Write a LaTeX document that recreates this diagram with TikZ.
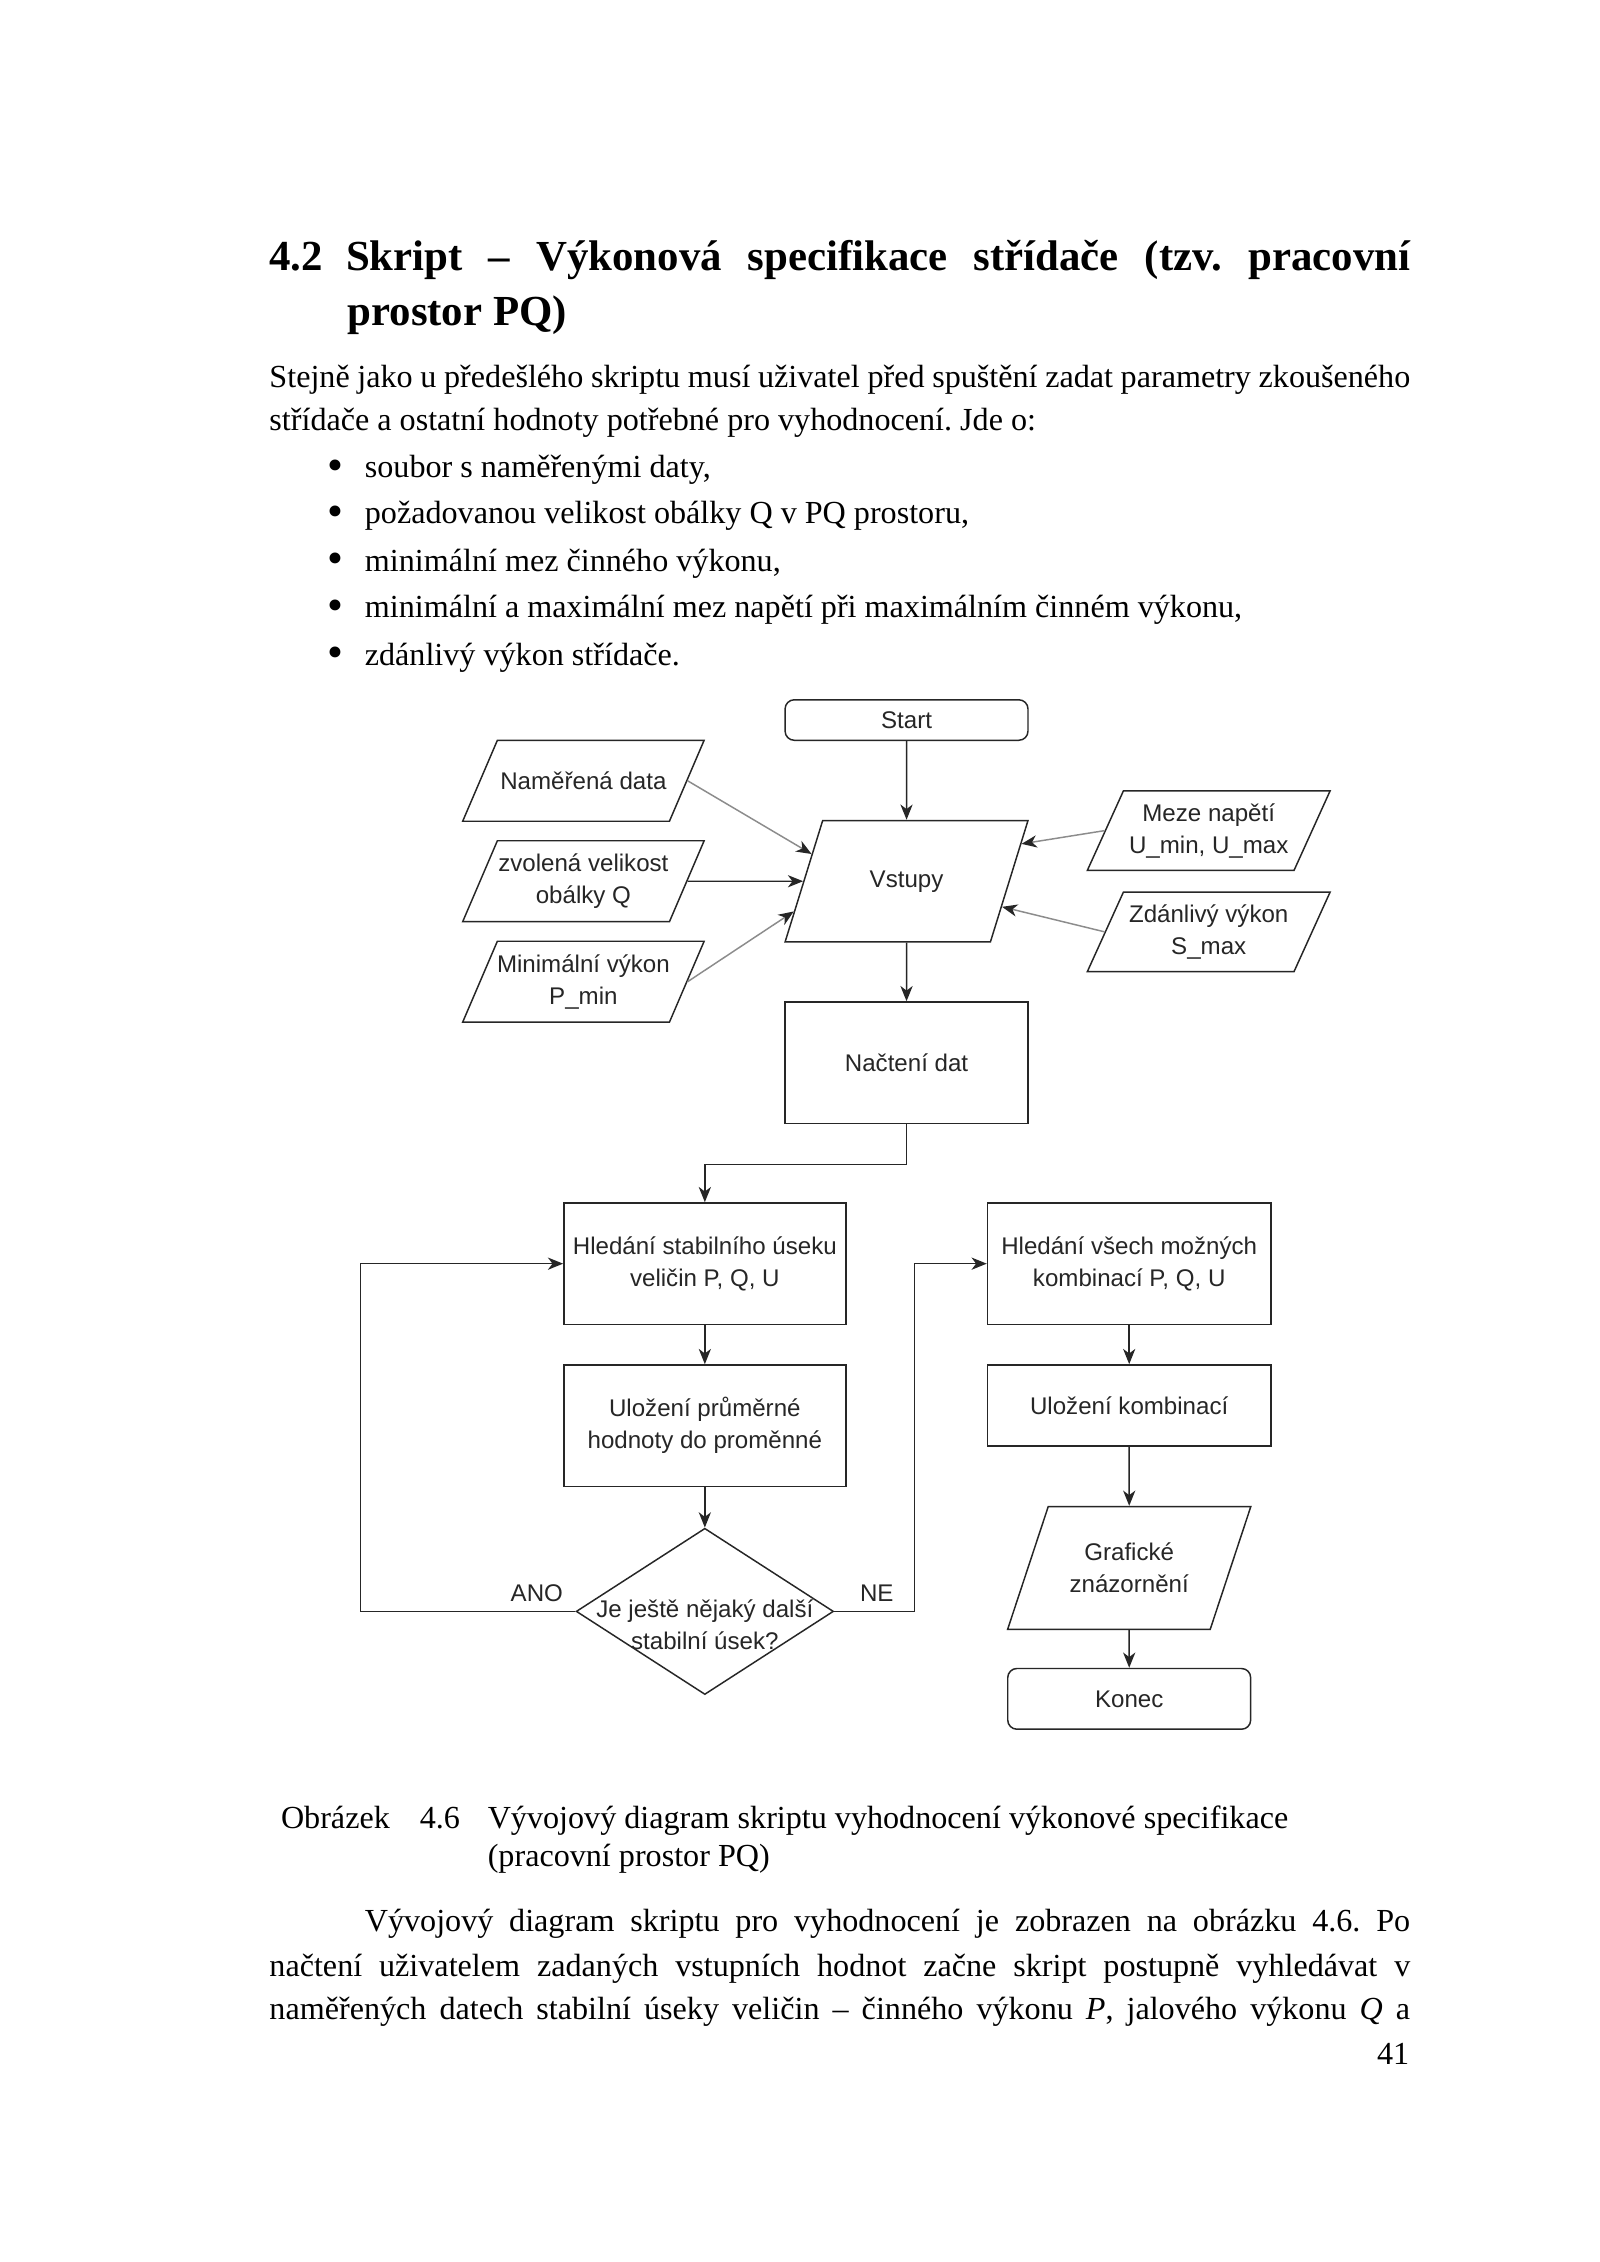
\documentclass[tikz,border=0pt]{standalone}
\usepackage{fontspec}
\setmainfont{Liberation Serif}
\setsansfont{Liberation Sans}
\usetikzlibrary{shapes.geometric,arrows.meta}
\frenchspacing

% drawing unit, page is 1106.6 units wide
\newlength\ux
\setlength\ux{0.18977mm}

% one line of page text, stretched to the given width
\newcommand\jline[5]{\node[txt] (#1) at (#2,#3) {\makebox[#4\ux][s]{#5}}; }
\newcommand\pline[4]{\node[txt] (#1) at (#2,#3) {#4}; }

\tikzset{
  txt/.style={anchor=base west, inner sep=0pt, font=\fontsize{12}{14}\selectfont},
  head/.style={txt, font=\bfseries\fontsize{16}{19}\selectfont},
  box/.style={draw=black!85, line width=0.55pt, minimum width=168\ux, minimum height=84\ux,
    align=center, inner sep=1pt, font=\sffamily\fontsize{9}{12}\selectfont, text=black!85},
  term/.style={box, rounded corners=1.2mm},
  % parallelogram: angle, body width, height
  io/.style n args={3}{draw=black!85, line width=0.55pt, trapezium,
    trapezium left angle=#1, trapezium right angle={180-#1},
    text width=#2\ux, text height=#3\ux, text depth=0pt, inner sep=0pt},
  lbl/.style={font=\sffamily\fontsize{9}{12}\selectfont, text=black!85, align=center},
  line/.style={draw=black!85, line width=0.55pt,
    -{Stealth[length=2mm, width=1.6mm, inset=0.6mm]}},
  gline/.style={draw=black!45, -{Stealth[length=2mm, width=1.6mm, inset=0.6mm, color=black!85]}}
}

\begin{document}
\begin{tikzpicture}[x=1\ux, y=-1\ux]
    \fill[white] (0,0) rectangle (1106.6,1564.5);
    \useasboundingbox (0,0) rectangle (1106.6,1564.5);

    % heading
    \node[head] (hnum) at (186,187) {4.2};
    \node[head] (h1) at (239,187) {\makebox[736\ux][s]{Skript – Výkonová specifikace střídače (tzv. pracovní}};
    \node[head] (h2) at (240,225) {prostor PQ)};

    % text above the figure
    \jline{p1}{186}{268}{789}{Stejně jako u předešlého skriptu musí uživatel před spuštění zadat parametry zkoušeného}
    \pline{p2}{186}{298}{střídače a ostatní hodnoty potřebné pro vyhodnocení. Jde o:}

    % bullets
    \foreach \i/\y/\t in {1/330/{soubor s naměřenými daty,},
                          2/362/{požadovanou velikost obálky Q v PQ prostoru,},
                          3/395/{minimální mez činného výkonu,},
                          4/427/{minimální a maximální mez napětí při maximálním činném výkonu,},
                          5/460/{zdánlivý výkon střídače.}} {
      \node[txt, font=\fontsize{17}{17}\selectfont] (dot\i) at (226,\y+2) {•};
      \pline{item\i}{252}{\y}{\t}
    }

    % start and inputs
    \node[term, minimum height=28\ux] (start) at (627,498) {Start};
    \node[io={72.8}{116}{84}, label={[lbl, name=vstupyt]center:Vstupy}] (vstupy) at (627,609.5) {};
    \node[io={66.8}{119}{56}, label={[lbl, name=namert]center:Naměřená data}] (namer) at (403.5,540) {};
    \node[io={66.8}{119}{56}, label={[lbl, name=obalkat]center:{zvolená velikost\\obálky Q}}] (obalka) at (403.5,609.5) {};
    \node[io={66.8}{119}{56}, label={[lbl, name=pmint]center:{Minimální výkon\\P\_min}}] (pmin) at (403.5,679) {};
    \node[io={65.6}{118}{55}, label={[lbl, name=umezt]center:{Meze napětí\\U\_min, U\_max}}] (umez) at (836,574.5) {};
    \node[io={65.6}{118}{55}, label={[lbl, name=smaxt]center:{Zdánlivý výkon\\S\_max}}] (smax) at (836,644.5) {};

    \draw[line] (start) -- (vstupy);
    \draw[line, gline] (namer.east) -- (vstupy.164);
    \draw[line] (obalka) -- (vstupy);
    \draw[line, gline] (pmin.east) -- (vstupy.195);
    \draw[line, gline] (umez.west) -- (vstupy.18);
    \draw[line, gline] (smax.west) -- (vstupy.345);

    % reading data
    \node[box] (nacteni) at (627,735) {Načtení dat};
    \draw[line] (vstupy) -- (nacteni);

    % left column, stable sections
    \node[box, minimum width=195\ux] (hled1) at (487.5,874) {Hledání stabilního úseku\\veličin P, Q, U};
    \node[box, minimum width=195\ux] (ulozeni1) at (487.5,986) {Uložení průměrné\\hodnoty do proměnné};
    \node[box, diamond, minimum width=178\ux, minimum height=115\ux, inner sep=0pt,
      label={[lbl, name=dalsit, yshift=-1.8mm]center:{Je ještě nějaký další\\stabilní úsek?}}] (dalsi) at (487.5,1114.5) {};
    \draw[line] (nacteni.south) -- ++(0,28) -| (hled1.north);
    \draw[line] (hled1) -- (ulozeni1);
    \draw[line] (ulozeni1) -- (dalsi);
    \draw[line] (dalsi.west) -- node[lbl, above, pos=0.18] (ano) {ANO} ++(-148.5,0) |- (hled1.west);

    % right column, combinations
    \node[box, minimum width=196\ux] (hled2) at (781,874) {Hledání všech možných\\kombinací P, Q, U};
    \node[box, minimum width=196\ux, minimum height=56\ux] (ulozeni2) at (781,972) {Uložení kombinací};
    \node[io={71.7}{112}{85}, label={[lbl, name=graft]center:{Grafické\\znázornění}}] (graf) at (781,1084.5) {};
    \node[term, minimum height=42\ux] (konec) at (781,1175) {Konec};
    \draw[line] (dalsi.east) -- node[lbl, above, pos=0.53] (ne) {NE} ++(55.5,0) |- (hled2.west);
    \draw[line] (hled2) -- (ulozeni2);
    \draw[line] (ulozeni2) -- (graf);
    \draw[line] (graf) -- (konec);

    % caption
    \pline{cap1}{194}{1265}{Obrázek}
    \pline{cap2}{290}{1265}{4.6}
    \pline{cap3}{337}{1265}{Vývojový diagram skriptu vyhodnocení výkonové specifikace}
    \pline{cap4}{337}{1291}{(pracovní prostor PQ)}

    % text below the figure
    \jline{q1}{252}{1336}{723}{Vývojový diagram skriptu pro vyhodnocení je zobrazen na obrázku 4.6. Po}
    \jline{q2}{186}{1367}{789}{načtení uživatelem zadaných vstupních hodnot začne skript postupně vyhledávat v}
    \jline{q3}{186}{1397}{789}{naměřených datech stabilní úseky veličin – činného výkonu \textit{P}, jalového výkonu \textit{Q} a}
    \node[txt, anchor=base east] (pagenum) at (975,1428) {41};
\end{tikzpicture}
\end{document}
